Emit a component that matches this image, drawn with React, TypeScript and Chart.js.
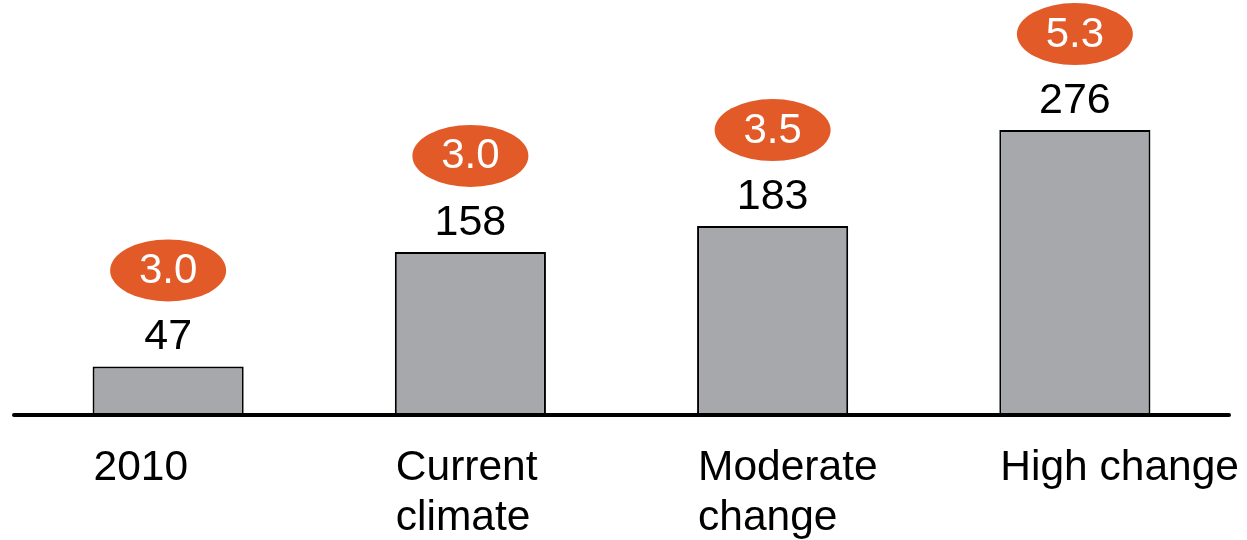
import React, { useEffect, useRef } from "react";
import { Chart, registerables } from "chart.js";

Chart.register(...registerables);

const categories: string[][] = [["2010"], ["Current", "climate"], ["Moderate", "change"], ["High change"]];
const values: number[] = [47, 158, 183, 276];
const badges: string[] = ["3.0", "3.0", "3.5", "5.3"];

const FONT = "'Liberation Sans', Arial, sans-serif";
const ORANGE = "#E25A28";
const BAR_GRAY = "#A7A8AC";

const annotationPlugin = {
  id: "annotations",
  afterDatasetsDraw(chart: any) {
    const { ctx, chartArea, scales } = chart;
    const y0 = scales.y.getPixelForValue(0);
    ctx.save();
    ctx.strokeStyle = "#000";
    ctx.lineWidth = 4;
    ctx.lineCap = "round";
    ctx.beginPath();
    ctx.moveTo(chartArea.left - 3, y0);
    ctx.lineTo(chartArea.right + 3, y0);
    ctx.stroke();

    const meta = chart.getDatasetMeta(0);
    meta.data.forEach((bar: any, i: number) => {
      const x = bar.x;
      const top = bar.y;
      ctx.fillStyle = "#000";
      ctx.font = `43px ${FONT}`;
      ctx.textAlign = "center";
      ctx.textBaseline = "middle";
      ctx.fillText(String(values[i]), x, top - 29);

      ctx.fillStyle = ORANGE;
      ctx.beginPath();
      ctx.ellipse(x, top - 96, 58, 31, 0, 0, Math.PI * 2);
      ctx.fill();
      ctx.fillStyle = "#fff";
      ctx.font = `42px ${FONT}`;
      ctx.fillText(badges[i], x, top - 95);

      // category label, left-aligned at bar's left edge
      ctx.fillStyle = "#000";
      ctx.font = `42.5px ${FONT}`;
      ctx.textAlign = "left";
      ctx.textBaseline = "alphabetic";
      const left = x - bar.width / 2;
      categories[i].forEach((line, j) => {
        ctx.fillText(line, left + 1, y0 + 65 + j * 50);
      });
    });
    ctx.restore();
  },
};

export default function App() {
  const ref = useRef<HTMLCanvasElement | null>(null);
  useEffect(() => {
    document.body.style.margin = "0";
    if (!ref.current) return;
    const chart = new Chart(ref.current, {
      type: "bar",
      data: {
        labels: categories.map((c) => c.join(" ")),
        datasets: [
          {
            data: values,
            backgroundColor: BAR_GRAY,
            borderColor: "#000",
            borderWidth: 2,
            borderSkipped: false,
            barPercentage: 0.5,
            categoryPercentage: 1,
          },
        ],
      },
      options: {
        responsive: false,
        animation: false,
        devicePixelRatio: 1,
        layout: { padding: { left: 17, right: 21, top: 0, bottom: 125 } },
        plugins: { legend: { display: false }, tooltip: { enabled: false } },
        scales: {
          x: { display: false },
          y: { display: false, min: 0, max: 402 },
        },
      },
      plugins: [annotationPlugin],
    });
    return () => chart.destroy();
  }, []);
  return (
    <div style={{ position: "absolute", left: 0, top: 0, width: 1247, height: 540, background: "#fff" }}>
      <canvas ref={ref} width={1247} height={540} />
    </div>
  );
}
